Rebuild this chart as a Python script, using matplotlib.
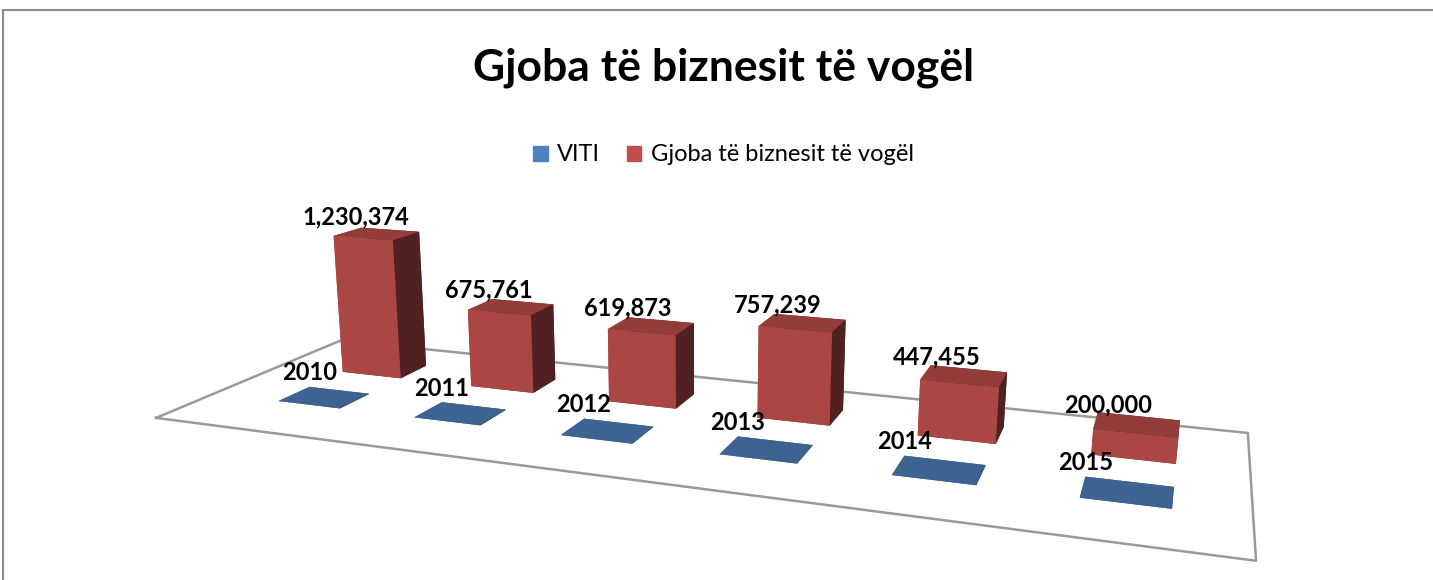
import numpy as np
import matplotlib
matplotlib.use("Agg")
import matplotlib.pyplot as plt
from matplotlib.patches import Patch, Rectangle

# chart data
years = [2010, 2011, 2012, 2013, 2014, 2015]
fines = [1230374, 675761, 619873, 757239, 447455, 200000]
series_names = ["VITI", "Gjoba të biznesit të vogël"]

BLUE = "#4F81BD"
RED = "#C0504D"
FONT = "Lato"

W, H = 1433, 580
fig = plt.figure(figsize=(W / 100, H / 100), dpi=100)

# outer chart border (the image is cropped on the right and bottom)
fig.patches.append(Rectangle((2.5 / W, -0.1), 1.2, 1.1 - 10 / H,
                             transform=fig.transFigure, fill=False,
                             edgecolor="#8c8c8c", linewidth=1.5))

fig.text(0.505, 0.883, "Gjoba të biznesit të vogël", ha="center", va="center",
         fontsize=32, fontweight="bold", family=FONT)

handles = [Patch(color=BLUE), Patch(color=RED)]
fig.legend(handles, series_names, loc="center", bbox_to_anchor=(0.505, 0.733),
           ncol=2, frameon=False, prop={"family": FONT, "size": 17},
           handlelength=0.6, handleheight=0.6, handletextpad=0.4, columnspacing=1.15)

# 3D axes are forced square, so make a square one as wide as the figure
side = 1.0
ax = fig.add_axes([-0.03, 0.37 - side * W / H / 2, side, side * W / H], projection="3d")
ax.set_proj_type("persp", focal_length=0.18)
ax.view_init(elev=15, azim=-70)

xs = np.arange(len(years))
dx, dy = 0.46, 0.3
y_blue, y_red = 0.5, 1.15
scale = max(fines)

ax.bar3d(xs, np.full(len(xs), y_blue), 0, dx, dy, np.array(years) / scale,
         color=BLUE, shade=True, edgecolor="none")
ax.bar3d(xs, np.full(len(xs), y_red), 0, dx, dy, np.array(fines) / scale,
         color=RED, shade=True, edgecolor="none")

xlim = (-0.5, 5.85)
ylim = (0, 1.8)
ax.set_xlim(*xlim)
ax.set_ylim(*ylim)
ax.set_zlim(0, 1.05)

# floor outline
fx = [xlim[0], xlim[1], xlim[1], xlim[0], xlim[0]]
fy = [ylim[0], ylim[0], ylim[1], ylim[1], ylim[0]]
ax.plot(fx, fy, [0] * 5, color="#9a9a9a", linewidth=1.8)

for x, yr in zip(xs, years):
    ax.text(x, y_blue + dy, 0.02, str(yr), ha="center", va="bottom",
            fontsize=17, fontweight="bold", family=FONT)
for x, v in zip(xs, fines):
    ax.text(x + dx * 0.15, y_red + dy / 2, v / scale + 0.03, f"{v:,}", ha="center",
            va="bottom", fontsize=17, fontweight="bold", family=FONT)

ax.set_box_aspect((6.35, 2.0, 1.0), zoom=0.76)
ax.set_axis_off()

fig.savefig("out.png", dpi=100)
